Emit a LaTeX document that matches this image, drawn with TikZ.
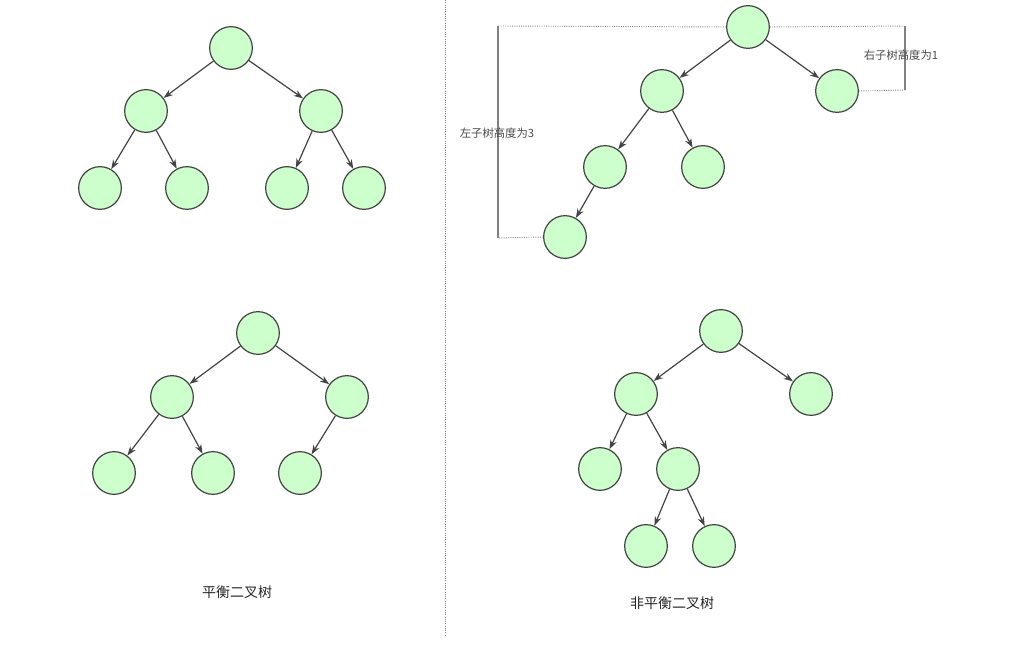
\documentclass[tikz,border=0pt]{standalone}
\usepackage{fontspec}
\setmainfont{Noto Sans CJK SC}
\usetikzlibrary{arrows.meta}
\definecolor{nodefill}{HTML}{CCFFCC}
\definecolor{edgec}{HTML}{444444}
\begin{document}
\begin{tikzpicture}[x=0.75pt,y=-0.75pt,
  tn/.style={circle,draw=edgec,fill=nodefill,line width=0.9pt,minimum size=32pt,inner sep=0pt},
  ed/.style={-{Stealth[length=7pt,width=5pt]},draw=edgec,line width=0.9pt},
  dots/.style={densely dotted,draw=gray,line width=0.7pt},
  brk/.style={draw=gray,line width=0.9pt},
  lab/.style={font=\fontsize{8.5pt}{10pt}\selectfont,text=black!70},
  captext/.style={font=\fontsize{10.5pt}{12pt}\selectfont,text=black!85}]
\useasboundingbox (0,0) rectangle (1026,648);
\draw[dots] (445,0) -- (445,636);
% top-left
\node[tn] (a1) at (231,48) {};
\node[tn] (a2) at (146,111) {};
\node[tn] (a3) at (321,111) {};
\node[tn] (a4) at (100,188) {};
\node[tn] (a5) at (187,188) {};
\node[tn] (a6) at (287,188) {};
\node[tn] (a7) at (364,188) {};
\foreach \p/\c in {a1/a2,a1/a3,a2/a4,a2/a5,a3/a6,a3/a7} \draw[ed] (\p) -- (\c);
% bottom-left
\node[tn] (b1) at (258,333) {};
\node[tn] (b2) at (172,397) {};
\node[tn] (b3) at (347,397) {};
\node[tn] (b4) at (114,473) {};
\node[tn] (b5) at (213,473) {};
\node[tn] (b6) at (300,473) {};
\foreach \p/\c in {b1/b2,b1/b3,b2/b4,b2/b5,b3/b6} \draw[ed] (\p) -- (\c);
\node[captext] (t1) at (237,592) {平衡二叉树};
% top-right
\node[tn] (c1) at (748,27) {};
\node[tn] (c2) at (662,91) {};
\node[tn] (c3) at (837,91) {};
\node[tn] (c4) at (605,167) {};
\node[tn] (c5) at (703,167) {};
\node[tn] (c6) at (565,237) {};
\foreach \p/\c in {c1/c2,c1/c3,c2/c4,c2/c5,c4/c6} \draw[ed] (\p) -- (\c);
\coordinate (l1) at (498,26);
\coordinate (l2) at (498,238);
\coordinate (r1) at (905,26);
\coordinate (r2) at (905,90);
\draw[dots] (c1.west) -- (l1);
\draw[dots] (c6.west) -- (l2);
\draw[brk] (l1) -- (l2);
\draw[dots] (c1.east) -- (r1);
\draw[dots] (c3.east) -- (r2);
\draw[brk] (r1) -- (r2);
\node[lab] (lt) at (497,133) {左子树高度为3};
\node[lab] (rt) at (901,55) {右子树高度为1};
% bottom-right
\node[tn] (d1) at (721,331) {};
\node[tn] (d2) at (636,394) {};
\node[tn] (d3) at (811,394) {};
\node[tn] (d4) at (600,469) {};
\node[tn] (d5) at (678,469) {};
\node[tn] (d6) at (646,546) {};
\node[tn] (d7) at (714,546) {};
\foreach \p/\c in {d1/d2,d1/d3,d2/d4,d2/d5,d5/d6,d5/d7} \draw[ed] (\p) -- (\c);
\node[captext] (t2) at (672,603) {非平衡二叉树};
\end{tikzpicture}
\end{document}
